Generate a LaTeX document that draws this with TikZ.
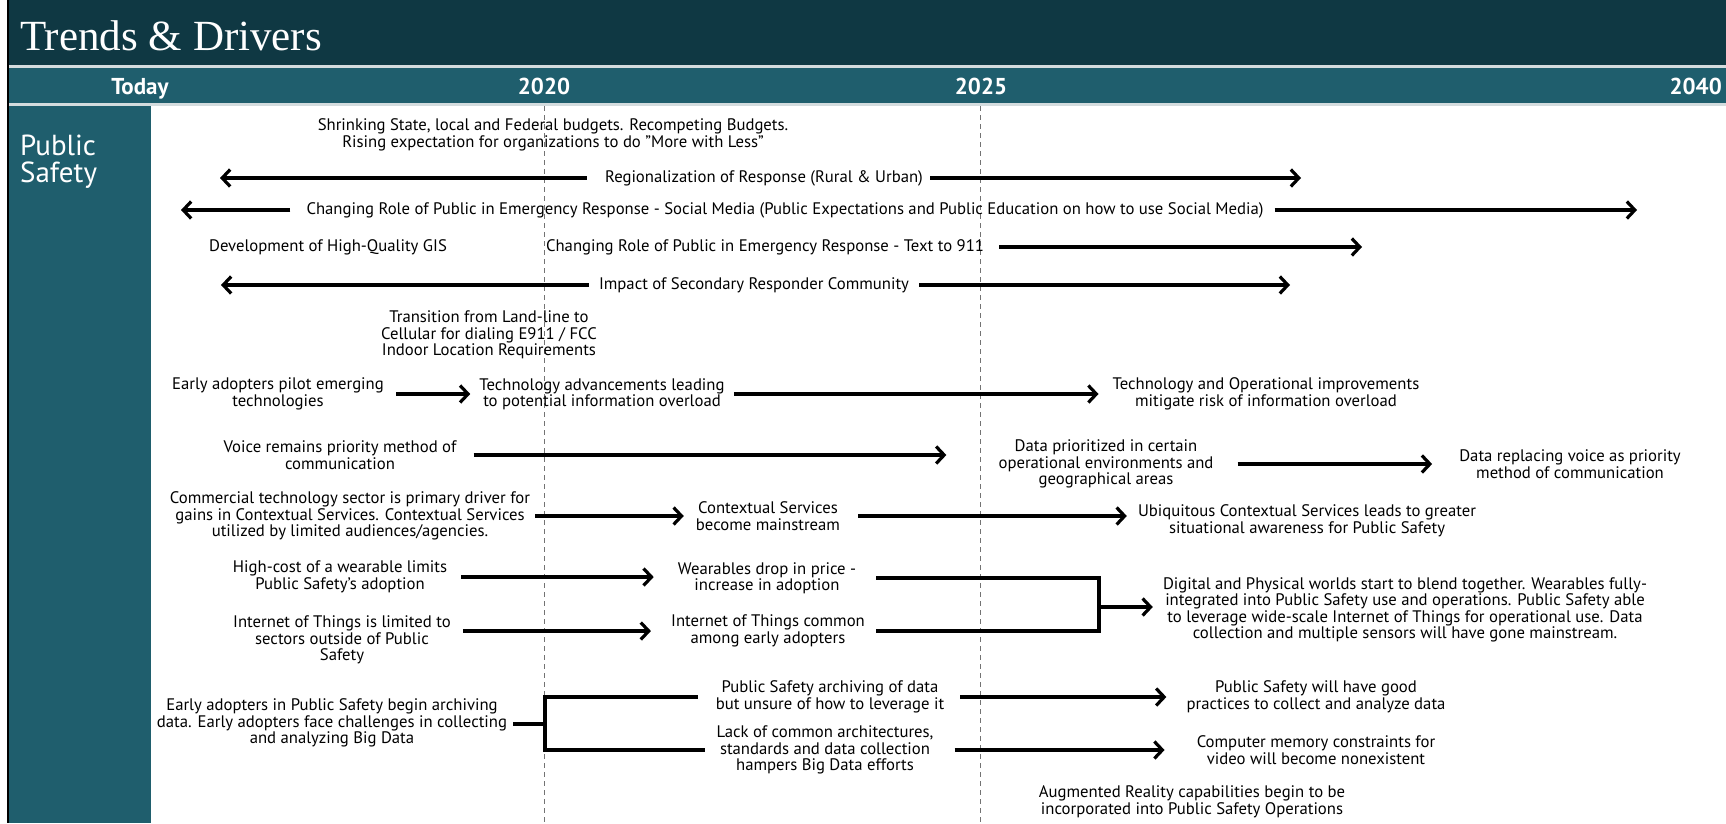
\documentclass[tikz,border=0pt]{standalone}
\usepackage{fontspec}
\setmainfont{PT Sans}
\newfontfamily\titlefont{Liberation Serif}
\usetikzlibrary{arrows.meta}

\definecolor{bandDark}{RGB}{15,56,67}
\definecolor{bandTeal}{RGB}{31,94,109}
\definecolor{sepGray}{RGB}{212,220,222}

\tikzset{
  txt/.style={align=center, inner sep=0pt, font=\fontsize{16.7}{16.5}\selectfont},
  yr/.style={text=white, inner sep=0pt, font=\bfseries\fontsize{23}{23}\selectfont},
  arr/.style={line width=3.2pt, -{Straight Barb[length=8pt,width=17pt]}},
  brk/.style={line width=3.2pt},
  yearline/.style={black!55, line width=0.8pt, dash pattern=on 5pt off 4pt}
}

\begin{document}
\begin{tikzpicture}[x=1pt, y=-1pt]
\useasboundingbox (0,0) rectangle (1726,823);
% bands
\fill[bandDark] (9,0) rectangle (1726,65);
\fill[sepGray] (9,65) rectangle (1726,68);
\fill[bandTeal] (9,68) rectangle (1726,103);
\fill[sepGray] (9,103) rectangle (1726,106);
\fill[bandTeal] (9,106) rectangle (151,823);
\draw[line width=2pt] (8,0) -- (8,823);
\node[anchor=base west, inner sep=0pt, text=white, font=\titlefont\fontsize{43}{43}\selectfont] (title) at (20,50) {Trends \& Drivers};
% years
\node[yr, anchor=base] (today) at (140,94) {Today};
\node[yr, anchor=base] (y2020) at (544,94) {2020};
\node[yr, anchor=base] (y2025) at (981,94) {2025};
\node[yr, anchor=base east] (y2040) at (1722,94) {2040};
\draw[yearline] (544,106) -- (544,823);
\draw[yearline] (980,106) -- (980,823);
\node[anchor=base west, inner sep=0pt, text=white, align=left, font=\fontsize{29}{27}\selectfont] (sector) at (20,182) {Public\\Safety};

% trends
\node[txt] (budget) at (553,135) {Shrinking State, local and Federal budgets. Recompeting Budgets.\\Rising expectation for organizations to do "More with Less"};
\node[txt] (region) at (764,178) {Regionalization of Response (Rural \& Urban)};
\coordinate (regionL) at (220,178);
\coordinate (regionR) at (1301,178);
\node[txt] (social) at (785,210) {Changing Role of Public in Emergency Response - Social Media (Public Expectations and Public Education on how to use Social Media)};
\coordinate (socialL) at (181,210);
\coordinate (socialR) at (1637,210);
\node[txt] (gis) at (328,247) {Development of High-Quality GIS};
\node[txt] (text911) at (765,247) {Changing Role of Public in Emergency Response - Text to 911};
\coordinate (text911R) at (1362,247);
\node[txt] (secondary) at (754,285) {Impact of Secondary Responder Community};
\coordinate (secondaryL) at (221,285);
\coordinate (secondaryR) at (1290,285);
\node[txt] (landline) at (489,335) {Transition from Land-line to\\Cellular for dialing E911 / FCC\\Indoor Location Requirements};

\node[txt] (pilot) at (278,394) {Early adopters pilot emerging\\technologies};
\node[txt] (overload) at (602,394) {Technology advancements leading\\to potential information overload};
\node[txt] (mitigate) at (1266,394) {Technology and Operational improvements\\mitigate risk of information overload};

\node[txt] (voice) at (340,455) {Voice remains priority method of\\communication};
\node[txt] (dataprio) at (1106,464) {Data prioritized in certain\\operational environments and\\geographical areas};
\node[txt] (datavoice) at (1570,464) {Data replacing voice as priority\\method of communication};

\node[txt] (commercial) at (350,516) {Commercial technology sector is primary driver for\\gains in Contextual Services. Contextual Services\\utilized by limited audiences/agencies.};
\node[txt] (ctxmain) at (768,516) {Contextual Services\\become mainstream};
\node[txt] (ubiq) at (1307,521) {Ubiquitous Contextual Services leads to greater\\situational awareness for Public Safety};

\node[txt] (highcost) at (340,577) {High-cost of a wearable limits\\Public Safety's adoption};
\node[txt] (wdrop) at (767,578) {Wearables drop in price -\\increase in adoption};
\node[txt] (iotlim) at (342,640) {Internet of Things is limited to\\sectors outside of Public\\Safety};
\node[txt] (iotcom) at (768,631) {Internet of Things common\\among early adopters};
\node[txt] (blend) at (1405,610) {Digital and Physical worlds start to blend together. Wearables fully-\\integrated into Public Safety use and operations. Public Safety able\\to leverage wide-scale Internet of Things for operational use. Data\\collection and multiple sensors will have gone mainstream.};
\coordinate (wjoin) at (1099,607);

\node[txt] (archive) at (332,723) {Early adopters in Public Safety begin archiving\\data. Early adopters face challenges in collecting\\and analyzing Big Data};
\coordinate (bigjoin) at (545,724);
\node[txt] (archdata) at (830,697) {Public Safety archiving of data\\but unsure of how to leverage it};
\node[txt] (goodpract) at (1316,697) {Public Safety will have good\\practices to collect and analyze data};
\node[txt] (lackarch) at (825,750) {Lack of common architectures,\\standards and data collection\\hampers Big Data efforts};
\node[txt] (nomem) at (1316,750) {Computer memory constraints for\\video will become nonexistent};
\node[txt] (augment) at (1192,802) {Augmented Reality capabilities begin to be\\incorporated into Public Safety Operations};

% connectors
\draw[arr, shorten <=18pt] (region.west) -- (regionL);
\draw[arr, shorten <=7pt] (region.east) -- (regionR);
\draw[arr, shorten <=16pt] (social.west) -- (socialL);
\draw[arr, shorten <=11pt] (social.east) -- (socialR);
\draw[arr, shorten <=15pt] (text911.east) -- (text911R);
\draw[arr, shorten <=10pt] (secondary.west) -- (secondaryL);
\draw[arr, shorten <=10pt] (secondary.east) -- (secondaryR);
\draw[arr, shorten <=12pt, shorten >=9pt] (pilot.east) -- (overload.west);
\draw[arr, shorten <=9pt, shorten >=14pt] (overload.east) -- (mitigate.west);
\draw[arr, shorten <=17pt, shorten >=52pt] (voice.east) -- (voice.east -| dataprio.west);
\draw[arr, shorten <=24pt, shorten >=27pt] (dataprio.east) -- (datavoice.west);
\draw[arr, shorten <=5pt, shorten >=12pt] (commercial.east) -- (ctxmain.west);
\draw[arr, shorten <=18pt, shorten >=11pt] (ctxmain.east) -- (ctxmain.east -| ubiq.west);
\draw[arr, shorten <=14pt, shorten >=24pt] (highcost.east) -- (highcost.east -| wdrop.west);
\draw[arr, shorten <=12pt, shorten >=20pt] (iotlim.east |- iotcom.west) -- (iotcom.west);
\draw[brk] ([xshift=20pt]wdrop.east) -- (wdrop.east -| wjoin) -- (iotcom.east -| wjoin) -- ([xshift=11pt]iotcom.east);
\draw[arr, shorten >=10pt] (wjoin) -- (wjoin -| blend.west);
\draw[brk] ([xshift=6pt]archive.east |- bigjoin) -- (bigjoin);
\draw[brk] ([xshift=-18pt]archdata.west) -- (archdata.west -| bigjoin) -- (lackarch.west -| bigjoin) -- ([xshift=-11pt]lackarch.west);
\draw[arr, shorten <=16pt, shorten >=20pt] (archdata.east) -- (goodpract.west);
\draw[arr, shorten <=21pt, shorten >=32pt] (lackarch.east) -- (nomem.west);
\end{tikzpicture}
\end{document}
